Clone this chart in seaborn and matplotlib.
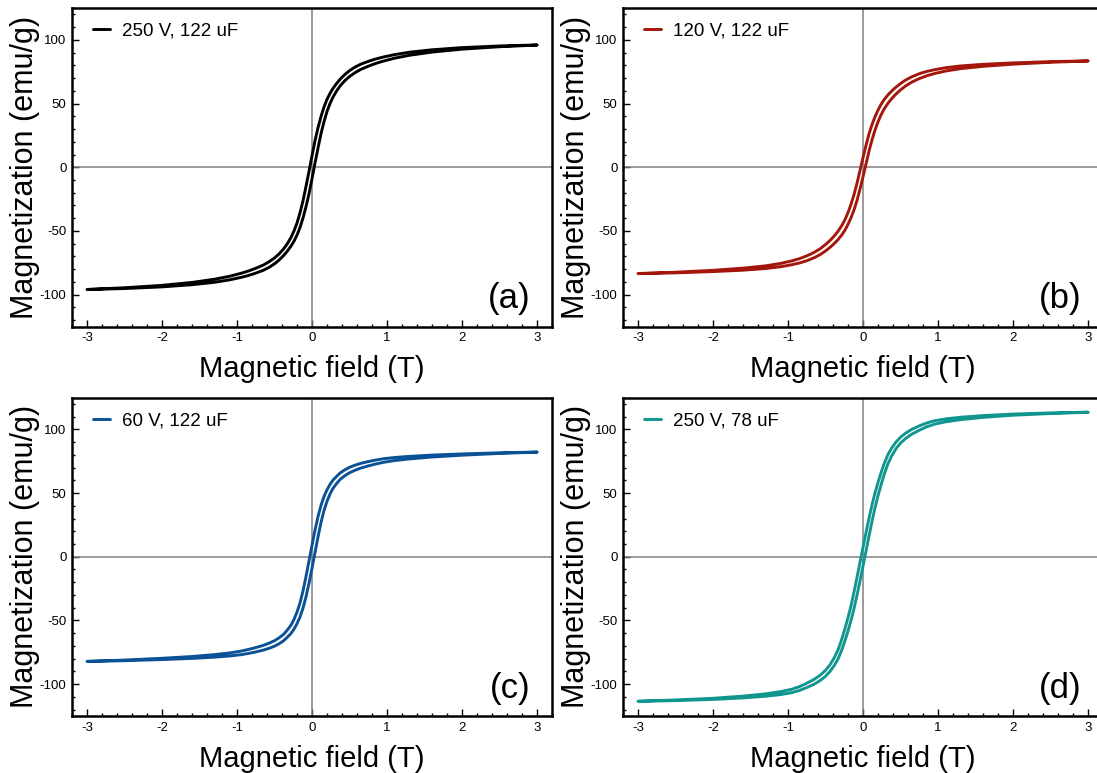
import matplotlib
matplotlib.use("Agg")
import matplotlib.pyplot as plt
from matplotlib.ticker import MultipleLocator
import pandas as pd
import seaborn as sns

# Field sweep: +3 T down to -3 T, then back up to +3 T
field_down = [3.0, 2.5, 2.0, 1.6, 1.3, 1.1, 0.95, 0.85, 0.75, 0.65,
              0.57, 0.5, 0.44, 0.38, 0.33, 0.28, 0.24, 0.2, 0.16, 0.12,
              0.08, 0.04, 0.0,
              -0.04, -0.08, -0.12, -0.16, -0.2, -0.24, -0.28,
              -0.33, -0.38, -0.44, -0.5, -0.57, -0.65, -0.75, -0.85, -0.95, -1.1,
              -1.3, -1.6, -2.0, -2.5, -3.0]
field_up = [-3.0, -2.5, -2.0, -1.6, -1.3, -1.1, -0.95, -0.85, -0.75, -0.65,
            -0.57, -0.5, -0.44, -0.38, -0.33, -0.28, -0.24, -0.2, -0.16, -0.12,
            -0.08, -0.04, 0.0,
            0.04, 0.08, 0.12, 0.16, 0.2, 0.24, 0.28,
            0.33, 0.38, 0.44, 0.5, 0.57, 0.65, 0.75, 0.85, 0.95, 1.1,
            1.3, 1.6, 2.0, 2.5, 3.0]

# (a) 250 V, 122 uF  -- magnetization in emu/g
mag_a_down = [96.0, 95.2, 93.9, 92.2, 90.3, 88.4, 86.5, 85.0, 83.1, 80.9,
              78.5, 75.8, 72.9, 69.4, 65.9, 61.9, 58.0, 53.3, 47.3, 39.8,
              31.0, 20.8, 9.0,
              -3.3, -15.0, -26.3, -35.8, -43.8, -50.0, -55.1,
              -60.1, -64.2, -68.1, -71.2, -74.1, -76.8, -79.3, -81.5, -83.3, -85.6,
              -87.9, -90.4, -92.7, -94.6, -95.9]
mag_a_up = [-96.0, -95.2, -93.9, -92.2, -90.3, -88.4, -86.5, -85.0, -83.1, -80.9,
            -78.5, -75.8, -72.9, -69.4, -65.9, -61.9, -58.0, -53.3, -47.3, -39.8,
            -31.0, -20.8, -9.0,
            3.3, 15.0, 26.3, 35.8, 43.8, 50.0, 55.1,
            60.1, 64.2, 68.1, 71.2, 74.1, 76.8, 79.3, 81.5, 83.3, 85.6,
            87.9, 90.4, 92.7, 94.6, 95.9]

# (b) 120 V, 122 uF
mag_b_down = [83.5, 82.9, 81.9, 80.8, 79.5, 78.1, 76.5, 75.2, 73.4, 71.0,
              68.5, 65.7, 62.9, 59.7, 56.6, 52.9, 49.3, 44.8, 39.6, 33.5,
              26.1, 17.1, 7.5,
              -2.6, -12.6, -21.5, -29.1, -35.6, -41.1, -45.5,
              -50.0, -53.7, -57.5, -60.7, -63.9, -66.8, -69.6, -71.8, -73.5, -75.5,
              -77.4, -79.2, -80.9, -82.4, -83.4]
mag_b_up = [-83.5, -82.9, -81.9, -80.8, -79.5, -78.1, -76.5, -75.2, -73.4, -71.0,
            -68.5, -65.7, -62.9, -59.7, -56.6, -52.9, -49.3, -44.8, -39.6, -33.5,
            -26.1, -17.1, -7.5,
            2.6, 12.6, 21.5, 29.1, 35.6, 41.1, 45.5,
            50.0, 53.7, 57.5, 60.7, 63.9, 66.8, 69.6, 71.8, 73.5, 75.5,
            77.4, 79.2, 80.9, 82.4, 83.4]

# (c) 60 V, 122 uF
mag_c_down = [82.2, 81.6, 80.7, 79.8, 78.8, 77.9, 76.9, 75.9, 74.7, 73.3,
              71.8, 70.2, 68.3, 66.0, 63.2, 60.2, 56.8, 52.5, 47.3, 40.3,
              31.5, 20.8, 9.0,
              -3.3, -15.5, -26.8, -36.3, -43.5, -49.2, -53.7,
              -57.6, -61.0, -63.7, -65.9, -67.8, -69.6, -71.3, -72.8, -74.1, -75.5,
              -76.8, -78.3, -79.7, -81.1, -82.1]
mag_c_up = [-82.2, -81.6, -80.7, -79.8, -78.8, -77.9, -76.9, -75.9, -74.7, -73.3,
            -71.8, -70.2, -68.3, -66.0, -63.2, -60.2, -56.8, -52.5, -47.3, -40.3,
            -31.5, -20.8, -9.0,
            3.3, 15.5, 26.8, 36.3, 43.5, 49.2, 53.7,
            57.6, 61.0, 63.7, 65.9, 67.8, 69.6, 71.3, 72.8, 74.1, 75.5,
            76.8, 78.3, 79.7, 81.1, 82.1]

# (d) 250 V, 78 uF
mag_d_down = [113.5, 112.9, 112.0, 110.8, 109.5, 108.2, 106.7, 105.0, 102.7, 100.0,
              97.1, 93.8, 90.0, 85.1, 79.9, 72.7, 65.8, 58.3, 50.0, 40.7,
              30.2, 18.9, 7.3,
              -4.4, -16.2, -27.7, -38.5, -47.8, -56.3, -64.2,
              -72.6, -78.9, -84.8, -89.2, -92.9, -96.2, -99.3, -102.0, -104.0, -105.9,
              -107.6, -109.4, -111.1, -112.4, -113.4]
mag_d_up = [-113.5, -112.9, -112.0, -110.8, -109.5, -108.2, -106.7, -105.0, -102.7, -100.0,
            -97.1, -93.8, -90.0, -85.1, -79.9, -72.7, -65.8, -58.3, -50.0, -40.7,
            -30.2, -18.9, -7.3,
            4.4, 16.2, 27.7, 38.5, 47.8, 56.3, 64.2,
            72.6, 78.9, 84.8, 89.2, 92.9, 96.2, 99.3, 102.0, 104.0, 105.9,
            107.6, 109.4, 111.1, 112.4, 113.4]

series_labels = ["250 V, 122 uF", "120 V, 122 uF", "60 V, 122 uF", "250 V, 78 uF"]
panel_tags = ["(a)", "(b)", "(c)", "(d)"]
colors = ["#000000", "#a3160b", "#0a5196", "#11968f"]
loops = [(mag_a_down, mag_a_up), (mag_b_down, mag_b_up),
         (mag_c_down, mag_c_up), (mag_d_down, mag_d_up)]

sns.set_theme(style="ticks")
plt.rcParams.update({
    "font.family": ["Liberation Sans", "DejaVu Sans"],
    "axes.unicode_minus": False,
    "xtick.direction": "in",
    "ytick.direction": "in",
    "axes.linewidth": 1.8,
    "axes.edgecolor": "black",
    "xtick.color": "black",
    "ytick.color": "black",
    "text.color": "black",
    "axes.labelcolor": "black",
})

W, H = 1097, 773
fig = plt.figure(figsize=(W / 100, H / 100), dpi=100)

ax_w, ax_h = 480, 318.5
lefts = [72, 623, 72, 623]
bottoms = [326.5, 326.5, 716.0, 716.0]

for i in range(4):
    ax = fig.add_axes([lefts[i] / W, 1 - bottoms[i] / H, ax_w / W, ax_h / H])
    down, up = loops[i]
    df = pd.DataFrame({"field": field_down + field_up, "mag": down + up})
    ax.axhline(0, color="#808080", lw=1.1, zorder=1)
    ax.axvline(0, color="#808080", lw=1.1, zorder=1)
    sns.lineplot(data=df, x="field", y="mag", sort=False, estimator=None,
                 color=colors[i], lw=2.1, label=series_labels[i], ax=ax, zorder=3)
    ax.set_xlim(-3.2, 3.2)
    ax.set_ylim(-125, 125)
    ax.set_xticks([-3, -2, -1, 0, 1, 2, 3])
    ax.set_yticks([-100, -50, 0, 50, 100])
    ax.xaxis.set_minor_locator(MultipleLocator(0.2))
    ax.yaxis.set_minor_locator(MultipleLocator(10))
    ax.tick_params(which="major", length=5, width=1.0, labelsize=9.5, pad=4,
                   top=False, right=False)
    ax.tick_params(which="minor", length=2.5, width=1.0, top=False, right=False)
    for s in ax.spines.values():
        s.set_linewidth(1.8)
        s.set_color("black")
    ax.set_xlabel("Magnetic field (T)", fontsize=21, labelpad=8)
    ax.set_ylabel("Magnetization (emu/g)", fontsize=22, labelpad=0)
    ax.text(0.955, 0.035, panel_tags[i], transform=ax.transAxes,
            ha="right", va="bottom", fontsize=25)
    ax.legend(loc="upper left", bbox_to_anchor=(0.029, 0.978), frameon=False,
              fontsize=13.5, handlelength=0.9, handletextpad=0.6,
              borderaxespad=0.0)

fig.savefig("out.png", dpi=100)
